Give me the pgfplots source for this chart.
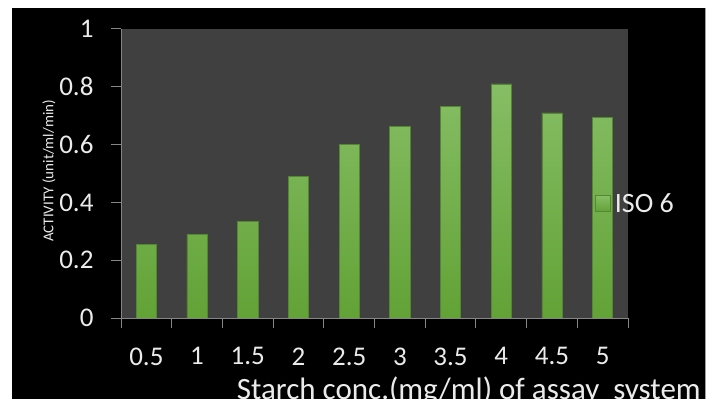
\documentclass[border=0pt]{standalone}
\usepackage{fontspec}
\setmainfont{Carlito}
\usepackage{pgfplots}
\pgfplotsset{compat=1.18}

\definecolor{plotbg}{RGB}{64,64,64}
\definecolor{axgray}{RGB}{134,134,134}
\definecolor{txt}{RGB}{235,235,235}
\definecolor{barTop}{RGB}{134,190,101}
\definecolor{barBot}{RGB}{98,162,54}
\definecolor{barEdge}{RGB}{84,134,52}

\begin{document}
\begin{tikzpicture}
% page and dark chart area
\fill[white] (0bp,0bp) rectangle (714bp,408bp);
\fill[black] (12bp,9bp) rectangle (705bp,400bp);
\draw[axgray!80, line width=1bp] (705bp,9bp) -- (705bp,400bp);

\begin{axis}[
  at={(121bp,90bp)}, anchor=south west,
  scale only axis, width=507bp, height=289bp,
  xmin=0.5, xmax=10.5, ymin=0, ymax=1,
  axis background/.style={fill=plotbg},
  axis x line*=bottom, axis y line*=left,
  axis line style={draw=axgray, line width=1bp},
  tick style={draw=axgray, line width=1bp},
  tick align=outside, major tick length=10bp,
  ytick={0,0.2,0.4,0.6,0.8,1},
  yticklabels={0,0.2,0.4,0.6,0.8,1},
  xtick={0.5,1.5,...,10.5}, xticklabels={},
  extra x ticks={1,2,3,4,5,6,7,8,9,10},
  extra x tick labels={0.5,1,1.5,2,2.5,3,3.5,4,4.5,5},
  extra x tick style={major tick length=0pt,
                      xticklabel style={yshift=-26bp}},
  ticklabel style={font=\fontsize{27bp}{30bp}\selectfont, text=txt},
  yticklabel style={xshift=-14bp},
  xlabel={Starch conc.(mg/ml) of assay\ \ system},
  xlabel style={at={(rel axis cs:0.686,-0.282)}, anchor=base,
                font=\fontsize{31bp}{35bp}\selectfont, text=txt, inner sep=0pt},
  ylabel={ACTIVITY (unit/ml/min)},
  ylabel style={at={(rel axis cs:-0.142,0.509)}, anchor=center,
                font=\fontsize{15bp}{17bp}\selectfont, text=txt, inner sep=0pt},
  legend style={at={(rel axis cs:0.935,0.396)}, anchor=west,
                draw=none, fill=none, text=txt, inner sep=0pt,
                font=\fontsize{28bp}{30bp}\selectfont,
                nodes={inner xsep=4bp}},
  legend image code/.code={
    \path[top color=barTop, bottom color=barBot] (0bp,-8bp) rectangle (15bp,8bp);
  },
]
\addplot[ybar, bar width=0.4, draw=barEdge, line width=0.6bp,
         top color=barTop, bottom color=barBot]
  coordinates {(1,0.255) (2,0.290) (3,0.333) (4,0.490) (5,0.600)
               (6,0.663) (7,0.732) (8,0.810) (9,0.710) (10,0.695)};
\addlegendentry{ISO 6}
\end{axis}

% the frame's lower edge trims the axis title
\fill[white] (0bp,0bp) rectangle (714bp,9bp);
\end{tikzpicture}
\end{document}
